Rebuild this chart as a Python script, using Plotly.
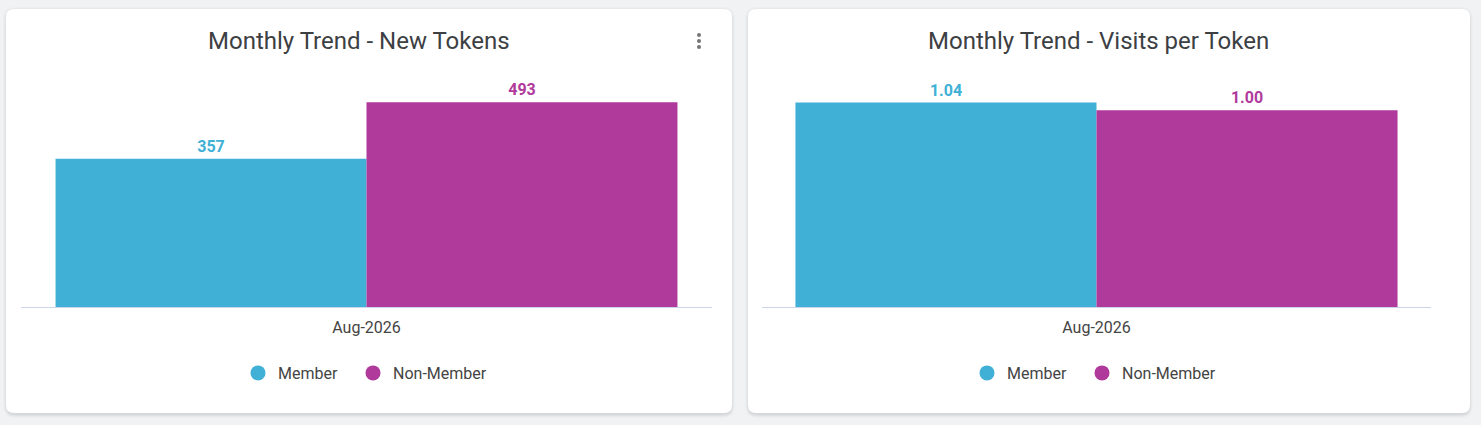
import plotly.graph_objects as go

W, H = 1481, 425

# ---- data ----
months = ["Aug-2026"]
series_names = ["Member", "Non-Member"]
series_colors = ["#40b0d6", "#b0399c"]
new_tokens_member = [357]
new_tokens_nonmember = [493]
visits_member = [1.04]
visits_nonmember = [1.00]
titles = ["Monthly Trend - New Tokens", "Monthly Trend - Visits per Token"]


def X(px):
    return px / W


def Y(py):
    return 1 - py / H


def rrect(x0, y0, x1, y1, r):
    rx, ry = r / W, r / H
    a, b, c, d = X(x0), Y(y0), X(x1), Y(y1)  # b top, d bottom
    return (f"M{a+rx},{b} L{c-rx},{b} Q{c},{b} {c},{b-ry} "
            f"L{c},{d+ry} Q{c},{d} {c-rx},{d} L{a+rx},{d} "
            f"Q{a},{d} {a},{d+ry} L{a},{b-ry} Q{a},{b} {a+rx},{b} Z")


fig = go.Figure()

data_sets = [
    (new_tokens_member, new_tokens_nonmember, "x", "y", "legend", "%{y:.0f}"),
    (visits_member, visits_nonmember, "x2", "y2", "legend2", "%{y:.2f}"),
]
legend_widths = [70, None]
for mem, non, xa, ya, lg, tpl in data_sets:
    for name, vals, col in zip(series_names, [mem, non], series_colors):
        fig.add_trace(go.Bar(
            x=months, y=vals, name=name, marker=dict(color=col, line=dict(width=0)),
            xaxis=xa, yaxis=ya, showlegend=False,
            texttemplate=tpl, textposition="outside", cliponaxis=False,
            textfont=dict(family="Roboto", size=16, color=col, weight=700),
            hoverinfo="skip",
        ))
    for name, col, lw in zip(series_names, series_colors, legend_widths):
        kw = dict(legendwidth=lw) if lw else {}
        fig.add_trace(go.Scatter(
            x=[None], y=[None], mode="markers", name=name,
            marker=dict(color=col, size=15, symbol="circle"),
            xaxis=xa, yaxis=ya, legend=lg, showlegend=True, **kw,
        ))

shapes = []
cards = [(6, 9, 732, 413), (748, 9, 1470, 413)]
for (x0, y0, x1, y1) in cards:
    for k, a in [(4, 0.015), (3, 0.02), (2, 0.03), (1, 0.04)]:
        shapes.append(dict(type="path", path=rrect(x0 - k + 1, y0 - k + 2, x1 + k - 1, y1 + k + 1, 8 + k),
                           xref="paper", yref="paper", fillcolor=f"rgba(0,0,0,{a})",
                           line=dict(width=0), layer="below"))
    shapes.append(dict(type="path", path=rrect(x0, y0, x1, y1, 8), xref="paper", yref="paper",
                       fillcolor="#ffffff", line=dict(width=0), layer="below"))
# kebab menu dots
for cy in [35, 41, 47]:
    shapes.append(dict(type="circle", xref="paper", yref="paper",
                       x0=X(697), x1=X(701), y0=Y(cy + 2), y1=Y(cy - 2),
                       fillcolor="#757575", line=dict(width=0), layer="above"))

annotations = [
    dict(text=titles[0], x=X(359), y=Y(41), xref="paper", yref="paper", showarrow=False,
         xanchor="center", yanchor="middle", font=dict(family="Roboto", size=24, color="#3c4043")),
    dict(text=titles[1], x=X(1098.5), y=Y(41), xref="paper", yref="paper", showarrow=False,
         xanchor="center", yanchor="middle", font=dict(family="Roboto", size=24, color="#3c4043")),
]

axis_common = dict(showline=True, linecolor="#ccd6eb", linewidth=1, showgrid=False, zeroline=False,
                   ticks="", ticklabelstandoff=6,
                   tickfont=dict(family="Roboto", size=16, color="#444444"), fixedrange=True)
yaxis_common = dict(visible=False, showgrid=False, zeroline=False, fixedrange=True)
ydom = [Y(307), Y(62)]

legend_common = dict(orientation="h", xanchor="center", yanchor="middle", y=Y(373),
                     font=dict(family="Roboto", size=16, color="#444444"),
                     bgcolor="rgba(0,0,0,0)", itemclick=False, itemdoubleclick=False)

fig.update_layout(
    width=W, height=H, margin=dict(l=0, r=0, t=0, b=0),
    paper_bgcolor="#f1f2f4", plot_bgcolor="rgba(0,0,0,0)",
    font=dict(family="Roboto", color="#444444"),
    barmode="group", bargap=0.1, bargroupgap=0,
    xaxis=dict(domain=[X(21), X(712)], anchor="y", **axis_common),
    yaxis=dict(domain=ydom, anchor="x", range=[0, 590], **yaxis_common),
    xaxis2=dict(domain=[X(762), X(1431)], anchor="y2", **axis_common),
    yaxis2=dict(domain=ydom, anchor="x2", range=[0, 1.246], **yaxis_common),
    legend=dict(x=X(365), **legend_common),
    legend2=dict(x=X(1094), **legend_common),
    shapes=shapes, annotations=annotations, showlegend=True,
)

fig.write_html("out.html", config={"displayModeBar": False},
               post_script="document.body.style.margin='0';document.body.style.overflow='hidden';")
